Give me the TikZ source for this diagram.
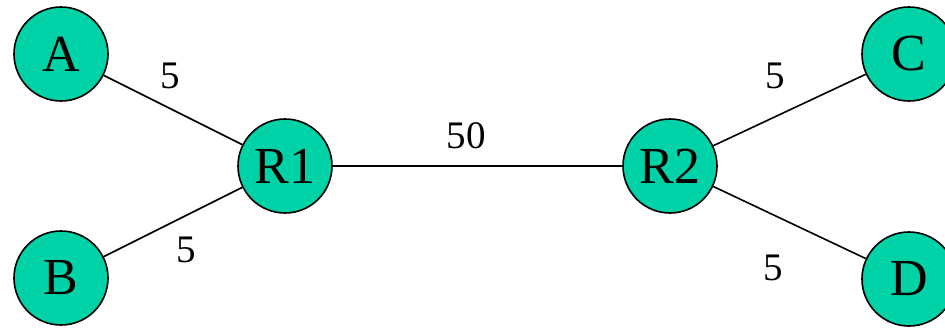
\documentclass[tikz,border=0pt]{standalone}
\usepackage{fontspec}
\setmainfont{Liberation Serif}
\definecolor{nodeteal}{RGB}{0,210,168}
\tikzset{
  host/.style={circle, draw=black, line width=1.6pt, fill=nodeteal, minimum size=94pt, inner sep=0pt, font=\fontsize{52}{52}\selectfont},
  link/.style={draw=black, line width=1.6pt},
  cost/.style={inner sep=0pt, font=\fontsize{39}{39}\selectfont}
}
\begin{document}
\begin{tikzpicture}[x=1pt,y=-1pt]
\clip (0,0) rectangle (945,327);
\fill[white] (0,0) rectangle (945,327);
\node[host] (A) at (61,54) {A};
\node[host] (B) at (61,278) {B};
\node[host] (R1) at (285,166) {R1};
\node[host] (R2) at (670,166) {R2};
\node[host] (C) at (909,54) {C};
\node[host] (D) at (909,279) {D};
\draw[link] (A) -- (R1);
\draw[link] (B) -- (R1);
\draw[link] (R1) -- (R2);
\draw[link] (R2) -- (C);
\draw[link] (R2) -- (D);
\node[cost] (lAR1) at (170,76) {5};
\node[cost] (lBR1) at (186,250) {5};
\node[cost] (lR1R2) at (466,136) {50};
\node[cost] (lR2C) at (775,76) {5};
\node[cost] (lR2D) at (773,268) {5};
\end{tikzpicture}
\end{document}
